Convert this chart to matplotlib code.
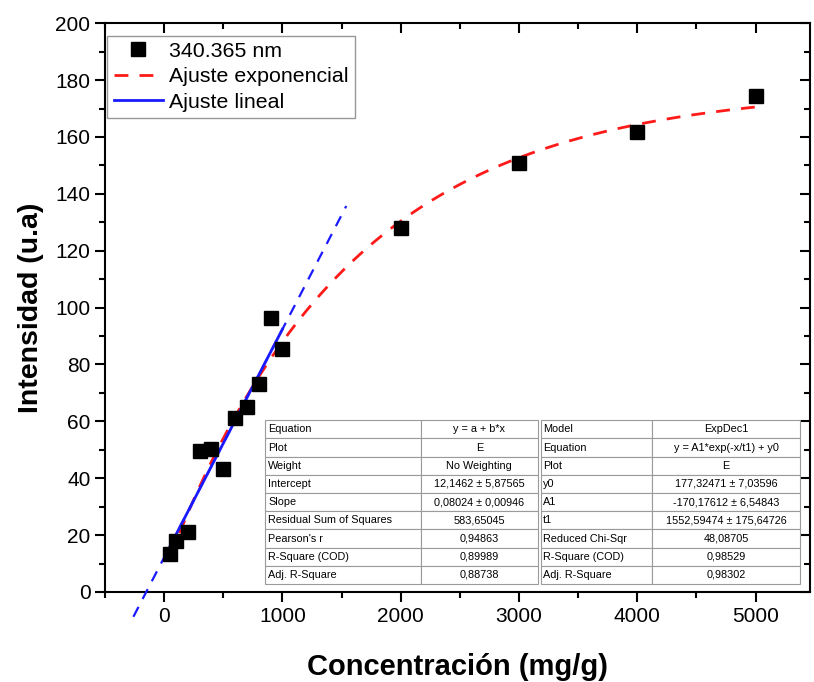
"""Intensidad vs concentración at 340.365 nm, with linear and exponential fits."""

import numpy as np
import matplotlib.pyplot as plt
from matplotlib.ticker import MultipleLocator

plt.rcParams['font.family'] = ['Liberation Sans', 'DejaVu Sans']

# measured points
conc = [50, 100, 200, 300, 400, 500, 600, 700, 800, 900, 1000, 2000, 3000, 4000, 5000]
intens = [13.5, 18.0, 21.2, 49.6, 50.2, 43.4, 61.3, 65.1, 73.2, 96.4, 85.5,
          128.0, 150.9, 161.8, 174.4]

# fit parameters as reported in the tables
lin_a = 12.1462
lin_b = 0.08024
exp_y0 = 177.32471
exp_A1 = -170.17612
exp_t1 = 1552.59474

lin_rows = [
    ["Equation", "y = a + b*x"],
    ["Plot", "E"],
    ["Weight", "No Weighting"],
    ["Intercept", "12,1462 ± 5,87565"],
    ["Slope", "0,08024 ± 0,00946"],
    ["Residual Sum of Squares", "583,65045"],
    ["Pearson's r", "0,94863"],
    ["R-Square (COD)", "0,89989"],
    ["Adj. R-Square", "0,88738"],
]
exp_rows = [
    ["Model", "ExpDec1"],
    ["Equation", "y = A1*exp(-x/t1) + y0"],
    ["Plot", "E"],
    ["y0", "177,32471 ± 7,03596"],
    ["A1", "-170,17612 ± 6,54843"],
    ["t1", "1552,59474 ± 175,64726"],
    ["Reduced Chi-Sqr", "48,08705"],
    ["R-Square (COD)", "0,98529"],
    ["Adj. R-Square", "0,98302"],
]


def add_table(ax, rows, bbox, col_widths):
    tab = ax.table(cellText=rows, bbox=bbox, colWidths=col_widths, zorder=6)
    tab.auto_set_font_size(False)
    for (r, c), cell in tab.get_celld().items():
        cell.set_edgecolor('#9a9a9a')
        cell.set_linewidth(0.8)
        cell.set_facecolor('white')
        cell.get_text().set_fontsize(7.8)
        if c == 0:
            cell.get_text().set_ha('left')
            cell.PAD = 0.02
        else:
            cell.get_text().set_ha('center')
    return tab


fig = plt.figure(figsize=(8.14, 6.82), dpi=100)
ax = fig.add_axes([0.129, 0.132, 0.866, 0.834])

# fitted curves
x_exp = np.linspace(conc[0], conc[-1], 300)
y_exp = exp_A1 * np.exp(-x_exp / exp_t1) + exp_y0
ax.plot(x_exp, y_exp, color='#ff1a1a', linestyle=(0, (5, 4)), linewidth=2,
        label='Ajuste exponencial', zorder=3)

x_ext = np.array([-260, 1540])
ax.plot(x_ext, lin_a + lin_b * x_ext, color='#1a1aff', linestyle=(0, (5, 4)),
        linewidth=1.6, zorder=3, clip_on=False)
x_lin = np.array([conc[0], 1000])
ax.plot(x_lin, lin_a + lin_b * x_lin, color='#1a1aff', linewidth=2,
        label='Ajuste lineal', zorder=4)

ax.plot(conc, intens, 's', color='black', markersize=9.5, linestyle='none',
        label='340.365 nm', zorder=5)

ax.set_xlim(-500, 5460)
ax.set_ylim(0, 200)
ax.xaxis.set_major_locator(MultipleLocator(1000))
ax.xaxis.set_minor_locator(MultipleLocator(500))
ax.yaxis.set_major_locator(MultipleLocator(20))
ax.yaxis.set_minor_locator(MultipleLocator(10))

ax.tick_params(which='both', top=True, right=True, labelsize=15, width=1.5)
ax.tick_params(which='major', length=7)
ax.tick_params(which='minor', length=4)
for spine in ax.spines.values():
    spine.set_linewidth(1.5)

# top/right ticks point inward, bottom/left outward
for t in ax.xaxis.get_major_ticks() + ax.xaxis.get_minor_ticks():
    t.tick2line.set_marker(3)
for t in ax.yaxis.get_major_ticks() + ax.yaxis.get_minor_ticks():
    t.tick2line.set_marker(0)

ax.set_xlabel('Concentración (mg/g)', fontsize=21, fontweight='bold', labelpad=20)
ax.set_ylabel('Intensidad (u.a)', fontsize=20.5, fontweight='bold', labelpad=8)

handles, labels = ax.get_legend_handles_labels()
order = [2, 0, 1]
leg = ax.legend([handles[i] for i in order], [labels[i] for i in order],
                loc='upper left', bbox_to_anchor=(0.0, 0.982), fontsize=15.4,
                frameon=True, fancybox=False, edgecolor='#7f7f7f',
                handlelength=2.3, handletextpad=0.3, borderaxespad=0.1,
                labelspacing=0.3, borderpad=0.3)
leg.get_frame().set_linewidth(1.0)

add_table(ax, lin_rows, [0.227, 0.014, 0.387, 0.288], [0.571, 0.429])
add_table(ax, exp_rows, [0.618, 0.014, 0.368, 0.288], [0.43, 0.57])

fig.savefig('out.png', dpi=100)
